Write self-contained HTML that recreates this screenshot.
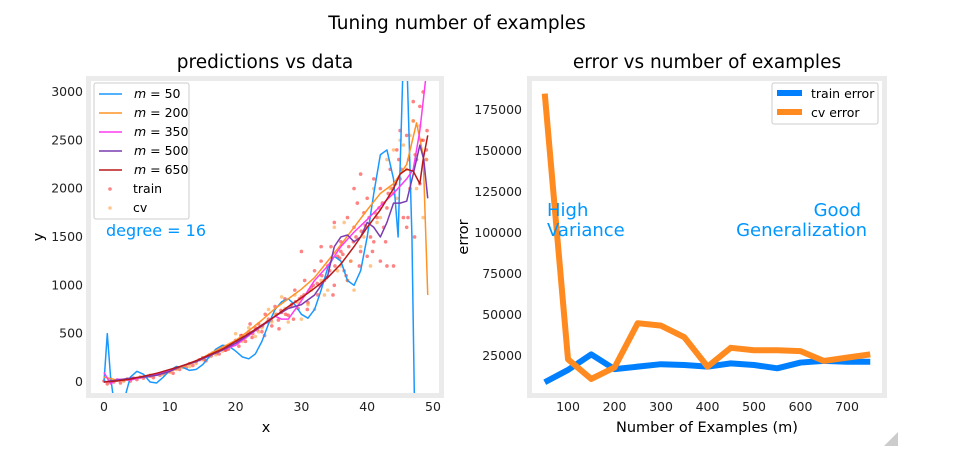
<!DOCTYPE html>
<html><head><meta charset="utf-8"><style>
body{margin:0;background:#fff;}
svg{display:block;font-family:"DejaVu Sans","Liberation Sans",sans-serif;}
</style></head><body>
<svg id="c" width="968" height="460">
<defs>
<clipPath id="clipL"><rect x="91" y="81" width="348" height="312"/></clipPath>
<clipPath id="clipR"><rect x="532" y="81" width="350" height="312"/></clipPath>
</defs>
<text x="457" y="29" font-size="18.5" text-anchor="middle" fill="#000">Tuning number of examples</text>
<text x="265" y="68" font-size="18.5" text-anchor="middle">predictions vs data</text>
<text x="707" y="68" font-size="18.5" text-anchor="middle">error vs number of examples</text>
<rect x="86" y="76" width="358" height="322" fill="#ebebeb"/>
<rect x="91" y="81" width="348" height="312" fill="#fff"/>
<rect x="527" y="76" width="360" height="322" fill="#ebebeb"/>
<rect x="532" y="81" width="350" height="312" fill="#fff"/>
<g id="L"></g><g id="R"></g>
<text x="266" y="432" font-size="14.5" text-anchor="middle">x</text>
<text x="43" y="237" font-size="14.5" text-anchor="middle" transform="rotate(-90 43 237)">y</text>
<text x="707" y="432" font-size="14.5" text-anchor="middle">Number of Examples (m)</text>
<text x="468" y="237" font-size="14.5" text-anchor="middle" transform="rotate(-90 468 237)">error</text>
<text x="106" y="236" font-size="16" fill="#0096ff">degree = 16</text>
<text x="547" y="216" font-size="18" fill="#0096ff"><tspan x="547">High</tspan><tspan x="547" dy="20">Variance</tspan></text>
<text x="866" y="216" font-size="18" fill="#0096ff" text-anchor="end"><tspan x="861">Good</tspan><tspan x="867" dy="20">Generalization</tspan></text>
<g>
<rect x="94" y="83" width="95" height="136" fill="#fff" stroke="#ccc" rx="2"/>
</g>
<g>
<rect x="772" y="83" width="106" height="41" fill="#fff" stroke="#ccc" rx="2"/>
<line x1="777" y1="93" x2="802" y2="93" stroke="#0080ff" stroke-width="6"/>
<text x="811" y="98" font-size="12.5">train error</text>
<line x1="777" y1="112" x2="802" y2="112" stroke="#ff8a1f" stroke-width="6"/>
<text x="811" y="117" font-size="12.5">cv error</text>
</g>
<polygon points="898,432 898,446 884,446" fill="#ccc"/>
</svg>
<script>
const xTicksL=[0,10,20,30,40,50];
const yTicksL=[0,500,1000,1500,2000,2500,3000];
const trainX=[0,0.5,1,1.5,2,2.5,3,3.5,4,4.5,5,5.5,6,6.5,7,7.5,8,8.5,9,9.5,10,10.5,11,11.5,12,12.5,13,13.5,14,14.5,15,15.5,16,16.5,17,17.5,18,18.5,19,19.5,20,20.5,21,21.5,22,22.5,23,23.5,24,24.5,25,25.5,26,26.5,27,27.5,28,28.5,29,29.5,30,30.5,31,31.5,32,32.5,33,33.5,34,34.5,35,35.5,36,36.5,37,37.5,38,38.5,39,39.5,40,40.5,41,41.5,42,42.5,43,43.5,44,44.5,45,45.5,46,46.5,47,47.5,48,48.5,49,37,40,42,43,45,46,47,48,35,33,38,41,44,46.2,47.2,48.5,49,30,36,39,15.2,16.3,17.1,18.4,19.2,20.3,21.2,21.8,22.6,23.3,24.1,24.8,25.4,26.2,26.9,27.6,28.3,29.1,29.7,30.4,31.2,31.8,32.4,33.1,33.8,34.3,35.1,35.8,36.3,37.2,37.9,38.3,39.1,39.7,40.3,41.2,41.8,42.3,43.2,43.8,44.3,45.2,46.3,47.3,48.2,49.1,18.9,20.8,22.2,24.4,26.6,28.8,30.9,32.8,34.8,36.8,38.8,40.8,42.8,44.8];
const trainY=[10,-20,30,0,20,-10,15,30,10,40,25,50,40,55,60,45,80,70,90,100,110,90,140,130,160,150,190,170,210,230,250,220,280,300,320,290,350,330,380,400,430,370,480,420,520,460,560,600,520,700,650,580,780,640,720,860,690,800,950,760,880,1050,820,980,1150,900,1250,1050,1200,1400,1000,1300,1450,1150,1700,1250,1600,1850,1350,1750,1900,1500,2100,1700,2000,1600,1800,2200,1950,2400,2100,1700,2550,2000,2700,2300,2850,2500,2400,1050,1300,1250,1200,2600,1600,2900,2050,1650,1400,2000,1450,1200,1700,1500,3000,2300,1350,1350,2150,230,270,300,330,390,410,450,490,500,540,580,620,640,700,740,700,780,830,860,900,950,1000,1020,1100,1080,1150,1200,1280,1320,1400,1450,1500,1560,1620,1700,1750,1800,1850,1950,2000,2050,2200,2300,2350,2500,2600,340,480,600,480,550,650,750,1000,900,1100,1200,1350,1450,2300];
const cvX=[1,3,5,7,9,11,13,15,17,19,20,21,22,23,24,25,26,27,28,29,30,31,32,33,34,35,36,37,38,39,40,41,42,43,44,45,46,47,48,49,36.5,40.5,44.5,47.5,10,12,14,16,18,21.5,23.5,25.5,27.5,29.5,31.5,33.5,35.5,37.5,39.5,41.5,43.5,45.5,46.5,48.5];
const cvY=[20,10,40,70,80,130,160,230,280,360,500,420,560,470,560,750,700,880,620,900,650,800,750,1050,950,1600,1200,1050,950,1400,1600,2000,1700,2300,2400,2500,2200,2700,2650,2300,1650,1200,1900,2000,100,150,190,260,320,460,520,620,760,820,950,900,1150,1250,1500,1650,2000,2450,2550,1700];
const m50X=[0,0.5,1,1.5,3,4,5,6,7,8,9,10,11,12,13,14,15,16,17,18,19,20,21,22,23,24,25,26,27,28,29,30,31,32,33,34,35,36,37,38,39,40,41,42,43,44,44.7,45.5,46,46.8,47.2];
const m50Y=[0,500,50,-200,-200,50,110,80,0,-10,50,120,160,150,120,130,180,260,340,380,370,320,260,240,290,420,600,750,830,860,800,700,660,750,950,1180,1300,1250,1050,1000,1150,1500,1950,2350,2400,2100,1500,3400,3400,1500,-300];
const m200X=[0,2,4,6,8,10,12,14,16,18,20,22,24,26,28,30,32,34,36,38,40,42,44,46,47.5,48.5,49.2];
const m200Y=[50,20,30,50,70,110,160,210,290,360,430,530,640,760,860,960,1080,1250,1420,1600,1780,1950,2050,2250,2680,2350,900];
const m350X=[0,1,2,4,6,8,10,12,14,16,18,20,22,24,26,27,28,30,32,34,36,38,40,42,44,46,47,48,49];
const m350Y=[100,-20,30,20,50,80,120,170,210,280,330,380,480,580,680,650,650,840,1050,1200,1400,1550,1680,1820,1950,2100,2200,2600,3200];
const m500X=[0,2,4,6,8,10,12,14,16,18,20,22,24,26,28,30,32,34,35,36,37,38,39,40,41,42,43,44,45,46,47,48,48.6,49.2];
const m500Y=[0,20,40,50,70,110,170,210,270,330,400,490,580,680,760,800,900,1100,1400,1500,1520,1450,1500,1650,1600,1500,1650,1850,1850,1870,2150,2450,2300,1900];
const m650X=[0,2,4,6,8,10,12,14,16,18,20,22,24,26,28,30,32,34,36,38,40,42,44,45,46,47,48,48.5,49.2];
const m650Y=[0,10,30,60,90,130,170,220,280,340,420,500,590,680,780,870,970,1080,1220,1400,1600,1780,2000,2150,2200,2180,2050,2300,2550];
const mR=[50,100,150,200,250,300,350,400,450,500,550,600,650,700,750];
const trainErr=[9000,16500,26000,17000,18500,20000,19500,18500,20500,19500,17500,21000,22000,21500,21500];
const cvErr=[185000,23000,11000,18000,45000,43500,36500,18500,30000,28500,28500,28000,22000,24000,26000];
const xTicksR=[100,200,300,400,500,600,700];
const yTicksR=[25000,50000,75000,100000,125000,150000,175000];

const NS='http://www.w3.org/2000/svg';
const L=document.getElementById('L'),R=document.getElementById('R');
const sxL=v=>104+v*6.58, syL=v=>382-v*0.0967;
const sxR=v=>521.5+v*0.465, syR=v=>397-v*0.00164;
function mk(tag,attrs,parent){const e=document.createElementNS(NS,tag);for(const k in attrs)e.setAttribute(k,attrs[k]);parent.appendChild(e);return e;}
xTicksL.forEach(t=>{const e=mk('text',{x:sxL(t),y:411,'font-size':12.5,'text-anchor':'middle',fill:'#222'},L);e.textContent=t;

});
yTicksL.forEach(t=>{const e=mk('text',{x:83,y:syL(t)+4,'font-size':12.5,'text-anchor':'end',fill:'#222'},L);e.textContent=t;

});
xTicksR.forEach(t=>{const e=mk('text',{x:sxR(t),y:411,'font-size':12.5,'text-anchor':'middle',fill:'#222'},R);e.textContent=t;

});
yTicksR.forEach(t=>{const e=mk('text',{x:522,y:syR(t)+4,'font-size':12.5,'text-anchor':'end',fill:'#222'},R);e.textContent=t;

});
const gL=mk('g',{'clip-path':'url(#clipL)'},L);
trainX.forEach((x,i)=>{const e=mk('circle',{cx:sxL(x),cy:syL(trainY[i]),r:1.8,fill:'#ff3030','fill-opacity':0.6},gL);

});
cvX.forEach((x,i)=>{const e=mk('circle',{cx:sxL(x),cy:syL(cvY[i]),r:1.8,fill:'#ffa040','fill-opacity':0.6},gL);

});
function line(xs,ys,sx,sy,col,w,g){return mk('polyline',{points:xs.map((x,i)=>sx(x)+','+sy(ys[i])).join(' '),fill:'none',stroke:col,'stroke-width':w,'stroke-linejoin':'round'},g);}
let p;
p=line(m50X,m50Y,sxL,syL,'#1a98ff',1.5,gL);


p=line(m200X,m200Y,sxL,syL,'#ff9326',1.5,gL);


p=line(m350X,m350Y,sxL,syL,'#ff3cf0',1.5,gL);


p=line(m500X,m500Y,sxL,syL,'#7a3cb0',1.5,gL);


p=line(m650X,m650Y,sxL,syL,'#b81818',1.5,gL);


const gR=mk('g',{'clip-path':'url(#clipR)'},R);
p=line(mR,trainErr,sxR,syR,'#0080ff',6,gR);


p=line(mR,cvErr,sxR,syR,'#ff8a1f',6,gR);


const svg=document.getElementById('c');
const leg=[['m = 50','#1a98ff'],['m = 200','#ff9326'],['m = 350','#ff3cf0'],['m = 500','#7a3cb0'],['m = 650','#b81818']];
leg.forEach((d,i)=>{const y=94+i*19;
const l=mk('line',{x1:99,y1:y,x2:122,y2:y,stroke:d[1],'stroke-width':1.5},svg);


const t=mk('text',{x:134,y:y+4,'font-size':12.5},svg);
t.innerHTML='<tspan font-style="italic">m</tspan> = '+d[0].split('= ')[1];

});
[['train','#ff3030',189],['cv','#ffa040',208]].forEach(d=>{
const r=mk('circle',{cx:110,cy:d[2],r:1.8,fill:d[1],'fill-opacity':0.6},svg);


const t=mk('text',{x:133,y:d[2]+4,'font-size':12.5},svg);t.textContent=d[0];

});
</script>
</body></html>
